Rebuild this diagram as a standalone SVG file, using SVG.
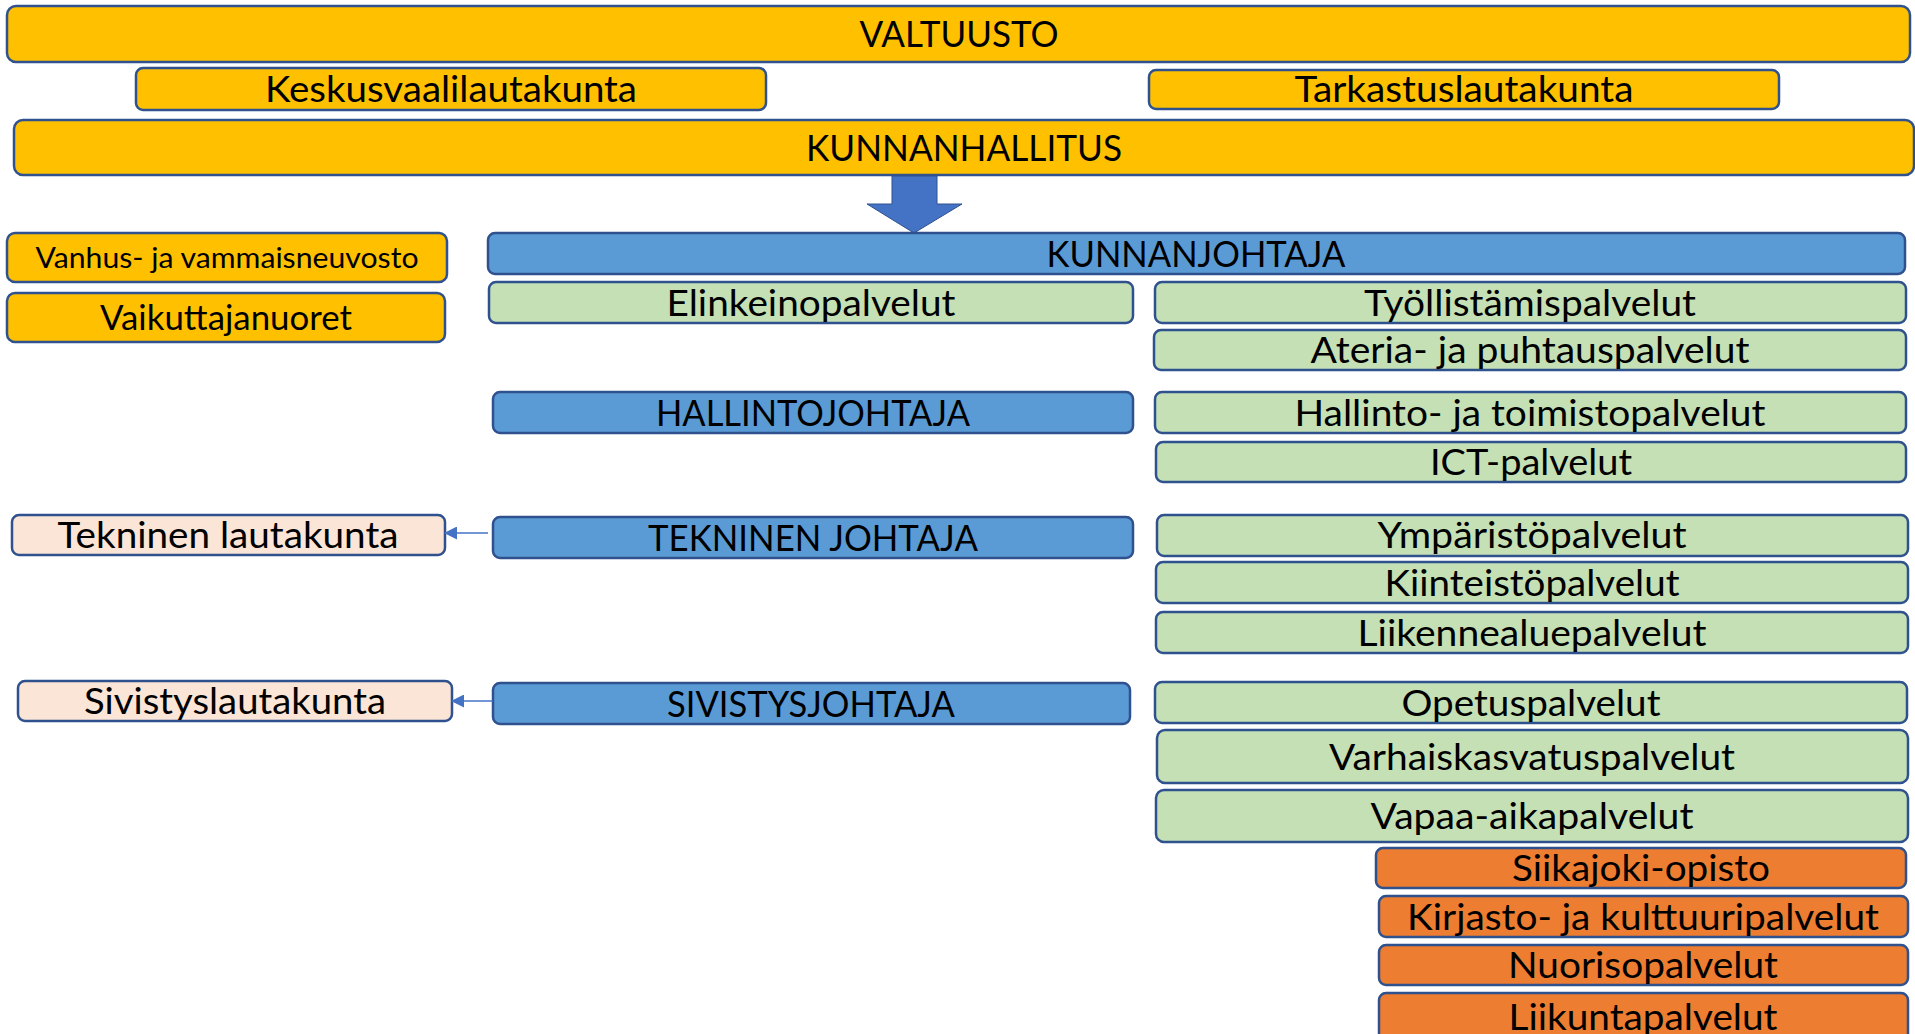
<svg xmlns="http://www.w3.org/2000/svg" width="1915" height="1034" viewBox="0 0 1915 1034">
<style>
rect{stroke:#2F528F;stroke-width:2.5}
.gold{fill:#FFC000}
.blue{fill:#5B9BD5}
.green{fill:#C5E0B4}
.peach{fill:#FBE5D6}
.orange{fill:#ED7D31}
text{font-family:Lato,"Open Sans","Noto Sans",sans-serif;font-size:37px;fill:#000;text-anchor:middle}
.sm{font-size:28px}
.md{font-size:34px}
.conn{stroke:#4472C4;stroke-width:1.5;fill:none}
</style>
<defs>
<marker id="ah" markerWidth="13" markerHeight="13" refX="12" refY="6.5" orient="auto" markerUnits="userSpaceOnUse">
<path d="M0,0 L13,6.5 L0,13 Z" fill="#4472C4"/>
</marker>
</defs>
<g id="valtuusto"><rect class="gold" x="7" y="6" width="1903" height="56" rx="9"/><text x="959" y="47" textLength="199" lengthAdjust="spacingAndGlyphs">VALTUUSTO</text></g>
<g id="keskusvaalilautakunta"><rect class="gold" x="136" y="68" width="630" height="42" rx="7"/><text x="451" y="102" textLength="372" lengthAdjust="spacingAndGlyphs">Keskusvaalilautakunta</text></g>
<g id="tarkastuslautakunta"><rect class="gold" x="1149" y="70" width="630" height="39" rx="7"/><text x="1464" y="102" textLength="339" lengthAdjust="spacingAndGlyphs">Tarkastuslautakunta</text></g>
<g id="kunnanhallitus"><rect class="gold" x="14" y="120" width="1900" height="55" rx="9"/><text x="964" y="161" textLength="316" lengthAdjust="spacingAndGlyphs">KUNNANHALLITUS</text></g>
<g id="arrow"><polygon points="892,176 937,176 937,204 962,204 914,233 867,204 892,204" fill="#4472C4" stroke="#2F528F" stroke-width="1"/></g>
<g id="kunnanjohtaja"><rect class="blue" x="488" y="233" width="1417" height="41" rx="7"/><text x="1196" y="267" textLength="299" lengthAdjust="spacingAndGlyphs">KUNNANJOHTAJA</text></g>
<g id="vanhusneuvosto"><rect class="gold" x="7" y="233" width="440" height="49" rx="8"/><text class="sm" x="227" y="268" textLength="383" lengthAdjust="spacingAndGlyphs">Vanhus- ja vammaisneuvosto</text></g>
<g id="vaikuttajanuoret"><rect class="gold" x="7" y="293" width="438" height="49" rx="8"/><text class="md" x="226" y="330" textLength="252" lengthAdjust="spacingAndGlyphs">Vaikuttajanuoret</text></g>
<g id="elinkeinopalvelut"><rect class="green" x="489" y="282" width="644" height="41" rx="7"/><text x="811" y="316" textLength="289" lengthAdjust="spacingAndGlyphs">Elinkeinopalvelut</text></g>
<g id="tyollistamispalvelut"><rect class="green" x="1155" y="282" width="751" height="41" rx="7"/><text x="1530" y="316" textLength="332" lengthAdjust="spacingAndGlyphs">Työllistämispalvelut</text></g>
<g id="ateriapalvelut"><rect class="green" x="1154" y="330" width="752" height="40" rx="7"/><text x="1530" y="363" textLength="439" lengthAdjust="spacingAndGlyphs">Ateria- ja puhtauspalvelut</text></g>
<g id="hallintojohtaja"><rect class="blue" x="493" y="392" width="640" height="41" rx="7"/><text x="813" y="426" textLength="314" lengthAdjust="spacingAndGlyphs">HALLINTOJOHTAJA</text></g>
<g id="hallintopalvelut"><rect class="green" x="1155" y="392" width="751" height="41" rx="7"/><text x="1530" y="426" textLength="471" lengthAdjust="spacingAndGlyphs">Hallinto- ja toimistopalvelut</text></g>
<g id="ictpalvelut"><rect class="green" x="1156" y="442" width="750" height="40" rx="7"/><text x="1531" y="475" textLength="202" lengthAdjust="spacingAndGlyphs">ICT-palvelut</text></g>
<g id="teknineninlautakunta"><rect class="peach" x="12" y="515" width="433" height="40" rx="7"/><text x="228" y="548" textLength="341" lengthAdjust="spacingAndGlyphs">Tekninen lautakunta</text></g>
<g id="teknineninjohtaja"><rect class="blue" x="493" y="517" width="640" height="41" rx="7"/><text x="813" y="551" textLength="330" lengthAdjust="spacingAndGlyphs">TEKNINEN JOHTAJA</text></g>
<g id="ymparistopalvelut"><rect class="green" x="1157" y="515" width="751" height="41" rx="7"/><text x="1532" y="548" textLength="309" lengthAdjust="spacingAndGlyphs">Ympäristöpalvelut</text></g>
<g id="kiinteistopalvelut"><rect class="green" x="1156" y="562" width="752" height="41" rx="7"/><text x="1532" y="596" textLength="295" lengthAdjust="spacingAndGlyphs">Kiinteistöpalvelut</text></g>
<g id="liikennealuepalvelut"><rect class="green" x="1156" y="612" width="752" height="41" rx="7"/><text x="1532" y="646" textLength="349" lengthAdjust="spacingAndGlyphs">Liikennealuepalvelut</text></g>
<g id="sivistyslautakunta"><rect class="peach" x="18" y="681" width="434" height="40" rx="7"/><text x="235" y="714" textLength="302" lengthAdjust="spacingAndGlyphs">Sivistyslautakunta</text></g>
<g id="sivistysjohtaja"><rect class="blue" x="493" y="683" width="637" height="41" rx="7"/><text x="811" y="717" textLength="288" lengthAdjust="spacingAndGlyphs">SIVISTYSJOHTAJA</text></g>
<g id="opetuspalvelut"><rect class="green" x="1155" y="682" width="752" height="41" rx="7"/><text x="1531" y="716" textLength="259" lengthAdjust="spacingAndGlyphs">Opetuspalvelut</text></g>
<g id="varhaiskasvatuspalvelut"><rect class="green" x="1157" y="730" width="751" height="53" rx="8"/><text x="1532" y="770" textLength="406" lengthAdjust="spacingAndGlyphs">Varhaiskasvatuspalvelut</text></g>
<g id="vapaaaikapalvelut"><rect class="green" x="1156" y="790" width="752" height="52" rx="8"/><text x="1532" y="829" textLength="323" lengthAdjust="spacingAndGlyphs">Vapaa-aikapalvelut</text></g>
<g id="siikajokiopisto"><rect class="orange" x="1376" y="848" width="530" height="40" rx="7"/><text x="1641" y="881" textLength="258" lengthAdjust="spacingAndGlyphs">Siikajoki-opisto</text></g>
<g id="kirjastopalvelut"><rect class="orange" x="1379" y="896" width="529" height="41" rx="7"/><text x="1643" y="930" textLength="472" lengthAdjust="spacingAndGlyphs">Kirjasto- ja kulttuuripalvelut</text></g>
<g id="nuorisopalvelut"><rect class="orange" x="1379" y="945" width="529" height="40" rx="7"/><text x="1643" y="978" textLength="270" lengthAdjust="spacingAndGlyphs">Nuorisopalvelut</text></g>
<g id="liikuntapalvelut"><rect class="orange" x="1379" y="993" width="529" height="50" rx="7"/><text x="1643" y="1030" textLength="269" lengthAdjust="spacingAndGlyphs">Liikuntapalvelut</text></g>
<g id="connectors">
<line class="conn" x1="488" y1="533" x2="445" y2="533" marker-end="url(#ah)"/>
<line class="conn" x1="493" y1="701" x2="452" y2="701" marker-end="url(#ah)"/>
</g>
</svg>
